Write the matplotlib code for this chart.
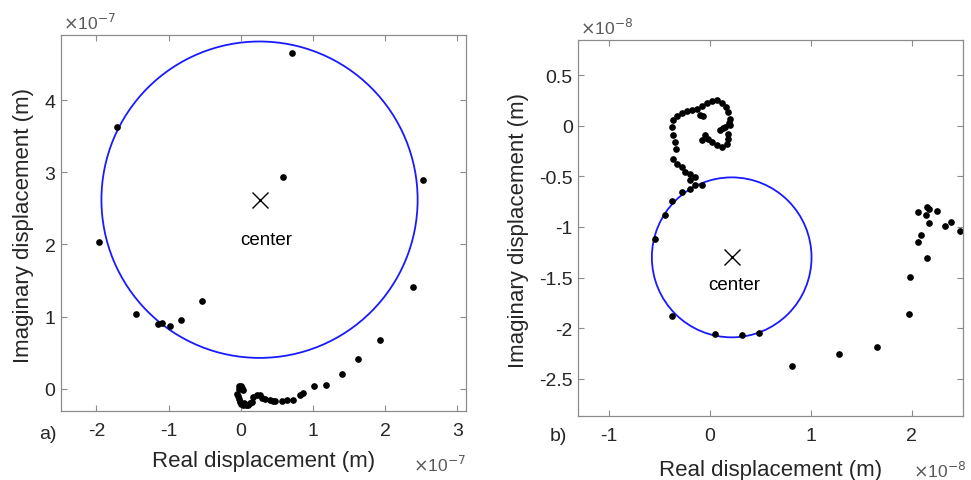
import matplotlib
matplotlib.use('Agg')
import matplotlib.pyplot as plt
from matplotlib.patches import Circle

plt.rcParams['font.family'] = ['Liberation Sans', 'DejaVu Sans']
plt.rcParams['axes.unicode_minus'] = False

# panel a) values in units of 1e-7 m
a_real = [0.71, -1.71, 0.58, 2.53, -1.965, -0.53, -1.45, -1.15, -1.09, -0.985,
          -0.83, 2.39, 1.93, 1.62, 1.40, 1.18, 1.01, 0.86, 0.82, 0.72,
          0.64, 0.57, 0.48, 0.41, 0.34, 0.30, 0.27, 0.22, 0.17, 0.15,
          0.13, 0.105, 0.07, 0.036, 0.0, -0.01, -0.03, -0.04, -0.05, -0.03,
          -0.01, 0.01, 0.03, 0.0, -0.02, 0.02, 0.04, 0.45]
a_imag = [4.65, 3.63, 2.94, 2.89, 2.04, 1.22, 1.04, 0.90, 0.92, 0.87,
          0.96, 1.41, 0.68, 0.415, 0.21, 0.06, 0.04, -0.05, -0.08, -0.15,
          -0.15, -0.16, -0.16, -0.15, -0.14, -0.12, -0.09, -0.08, -0.11, -0.18,
          -0.20, -0.22, -0.22, -0.22, -0.21, -0.18, -0.14, -0.10, -0.07, 0.0,
          0.02, 0.045, -0.02, 0.03, 0.04, 0.01, -0.20, -0.16]
a_center = (0.26, 2.62)
a_radius = 2.19
a_label_pos = (0.36, 2.01)

# panel b) values in units of 1e-8 m
b_real = [0.817, 1.276, 1.658, 1.968, 1.98, 2.15, 2.06, 2.087, 2.06, 2.146,
          2.17, 2.14, 2.17, 2.25, 2.33, 2.39, 2.476,
          0.488, 0.323, 0.055, -0.37, -0.54, -0.44, -0.37, -0.277, -0.195,
          -0.145, -0.08, -0.195, -0.145, -0.195, -0.244, -0.277, -0.32, -0.36,
          -0.333, -0.343, -0.36, -0.376, -0.36, -0.327, -0.277, -0.228, -0.178,
          -0.129, -0.096, -0.063, -0.08, -0.03, 0.02, 0.069, 0.119, 0.16,
          0.184, 0.2, 0.2, 0.128, 0.102, 0.184, 0.184, 0.168, 0.119, 0.069,
          0.02, -0.014, -0.046, -0.08, 0.194, 0.15]
b_imag = [-2.37, -2.25, -2.19, -1.86, -1.49, -1.31, -1.145, -1.076, -0.85, -0.806,
          -0.82, -0.885, -0.957, -0.84, -0.99, -0.955, -1.04,
          -2.05, -2.07, -2.06, -1.88, -1.12, -0.885, -0.745, -0.655, -0.62,
          -0.59, -0.59, -0.54, -0.506, -0.474, -0.457, -0.408, -0.375, -0.326,
          -0.227, -0.161, -0.096, -0.013, 0.052, 0.10, 0.125, 0.141, 0.151,
          0.168, 0.109, 0.10, 0.20, 0.227, 0.24, 0.25, 0.227, 0.184,
          0.135, 0.069, 0.003, -0.023, -0.046, -0.079, -0.128, -0.178, -0.21, -0.194,
          -0.161, -0.128, -0.096, -0.145, 0.03, -0.01]
b_center = (0.218, -1.30)
b_radius = 0.79
b_label_pos = (0.247, -1.616)

W, H = 971, 481
fig = plt.figure(figsize=(W / 100, H / 100), dpi=100)

axes_px = [(61, 36, 466, 412), (578.3, 40.7, 963.3, 417.3)]
grey = '0.15'


def make_axes(box):
    x0, y0, x1, y1 = box
    ax = fig.add_axes([x0 / W, 1 - y1 / H, (x1 - x0) / W, (y1 - y0) / H])
    for s in ax.spines.values():
        s.set_color('0.55')
        s.set_linewidth(0.9)
    ax.tick_params(direction='in', top=True, right=True, length=4,
                   color='0.55', labelcolor=grey, labelsize=14)
    ax.tick_params(axis='x', pad=8)
    ax.tick_params(axis='y', pad=4)
    return ax


def draw(ax, xs, ys, center, radius, label_pos, mult, xlim, ylim, xticks, yticks):
    ax.add_patch(Circle(center, radius, fill=False, edgecolor='#1a1aff', lw=1.3))
    ax.plot(xs, ys, 'o', color='black', ms=3.8, mec='black')
    ax.plot(center[0], center[1], 'x', color='black', ms=11, mew=1.0)
    ax.text(label_pos[0], label_pos[1], 'center', ha='center', va='baseline',
            fontsize=13.5, color='black')
    ax.set_xlim(xlim)
    ax.set_ylim(ylim)
    ax.set_xticks(xticks)
    ax.set_yticks(yticks)
    ax.set_xticklabels(['%g' % v for v in xticks])
    ax.set_yticklabels(['%g' % v for v in yticks])
    ax.set_xlabel('Real displacement (m)', fontsize=16, color=grey)
    ax.set_ylabel('Imaginary displacement (m)', fontsize=16, color=grey)
    ax.text(0.005, 1.008, r'$\times$10$^{%d}$' % mult, transform=ax.transAxes,
            fontsize=12.5, color='0.35', ha='left', va='bottom')
    ax.text(0.87, -0.115, r'$\times$10$^{%d}$' % mult, transform=ax.transAxes,
            fontsize=12.5, color='0.35', ha='left', va='top')


ax1 = make_axes(axes_px[0])
draw(ax1, a_real, a_imag, a_center, a_radius, a_label_pos, -7, (-2.49, 3.12), (-0.305, 4.9),
     [-2, -1, 0, 1, 2, 3], [0, 1, 2, 3, 4])
ax1.xaxis.set_label_coords(0.5, -0.105)
ax1.yaxis.set_label_coords(-0.066, 0.497)

ax2 = make_axes(axes_px[1])
draw(ax2, b_real, b_imag, b_center, b_radius, b_label_pos, -8, (-1.30, 2.51), (-2.87, 0.85),
     [-1, 0, 1, 2], [-2.5, -2, -1.5, -1, -0.5, 0, 0.5])
ax2.xaxis.set_label_coords(0.5, -0.113)
ax2.yaxis.set_label_coords(-0.128, 0.497)

fig.text(48 / W, 1 - 435 / H, 'a)', fontsize=14, color=grey, ha='center', va='center')
fig.text(558 / W, 1 - 437 / H, 'b)', fontsize=14, color=grey, ha='center', va='center')

fig.savefig('out.png', dpi=100)
plt.close()
